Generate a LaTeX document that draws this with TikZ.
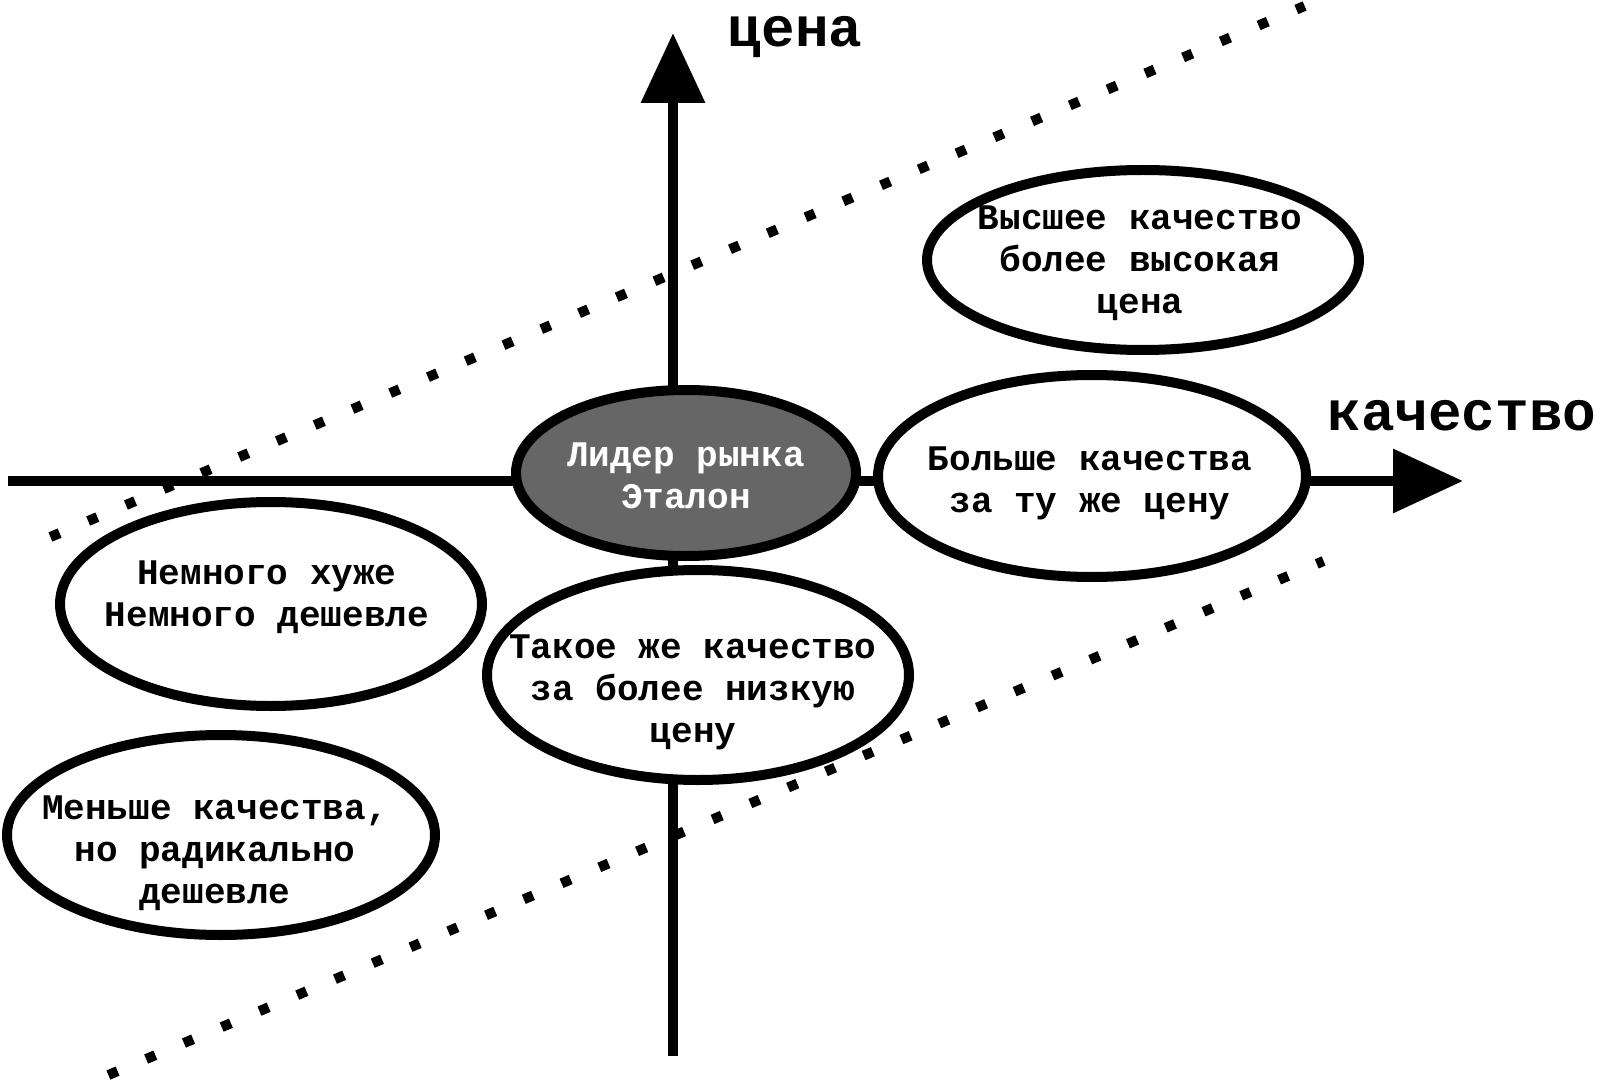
\documentclass[tikz,border=0pt]{standalone}
\usepackage{fontspec}
\setmainfont{Liberation Mono}
\usetikzlibrary{arrows.meta,shapes.geometric}
\begin{document}
\begin{tikzpicture}[x=0.5pt,y=-0.5pt,
  axis/.style={line width=5pt,-{Triangle[length=35pt,width=31pt]}},
  dotline/.style={line width=5pt,dash pattern=on 5pt off 15.5pt},
  oval/.style={ellipse,draw,line width=5pt,fill=white,inner sep=0pt},
  leader/.style={oval,fill=leadergray},
  lbl/.style={font=\bfseries\fontsize{18pt}{21pt}\selectfont,align=center,inner sep=0pt},
  axlbl/.style={font=\bfseries\fontsize{28pt}{32pt}\selectfont,inner sep=0pt,anchor=base}]
\definecolor{leadergray}{RGB}{102,102,102}
\useasboundingbox (0,0) rectangle (1600,1080);
% dotted boundaries
\coordinate (ua) at (50.4,537);
\coordinate (ub) at (1304.6,6);
\coordinate (la) at (108.4,1075);
\coordinate (lb) at (1323.6,561);
\draw[dotline] (ua) -- (ub);
\draw[dotline] (la) -- (lb);
% axes
\coordinate (yb) at (673,1056);
\coordinate (yt) at (673,33);
\coordinate (xl) at (8,481);
\coordinate (xr) at (1463,481);
\draw[axis] (yb) -- (yt);
\draw[axis] (xl) -- (xr);
\node[axlbl] (price) at (795,47) {цена};
\node[axlbl] (quality) at (1462,430) {качество};
% ellipses
\node[leader,minimum width=170pt,minimum height=83pt] (lead) at (686,473) {};
\node[oval,minimum width=216pt,minimum height=90pt] (tr) at (1143,260) {};
\node[oval,minimum width=214pt,minimum height=101pt] (rt) at (1092,476) {};
\node[oval,minimum width=211pt,minimum height=102pt] (lf) at (271,604) {};
\node[oval,minimum width=211pt,minimum height=105pt] (lm) at (698,675) {};
\node[oval,minimum width=214pt,minimum height=100pt] (bl) at (221,835) {};
% texts
\node[lbl,text=white] (leadt) at (686,476) {Лидер рынка\\Эталон};
\node[lbl] (trt) at (1140,263) {Высшее качество\\более высокая\\цена};
\node[lbl] (rtt) at (1090,483) {Больше качества\\за ту же цену};
\node[lbl] (lft) at (267,597) {Немного хуже\\Немного дешевле};
\node[lbl] (lmt) at (693,692) {Такое же качество\\за более низкую\\цену};
\node[lbl] (blt) at (215,853) {Меньше качества,\\но радикально\\дешевле};
\end{tikzpicture}
\end{document}
